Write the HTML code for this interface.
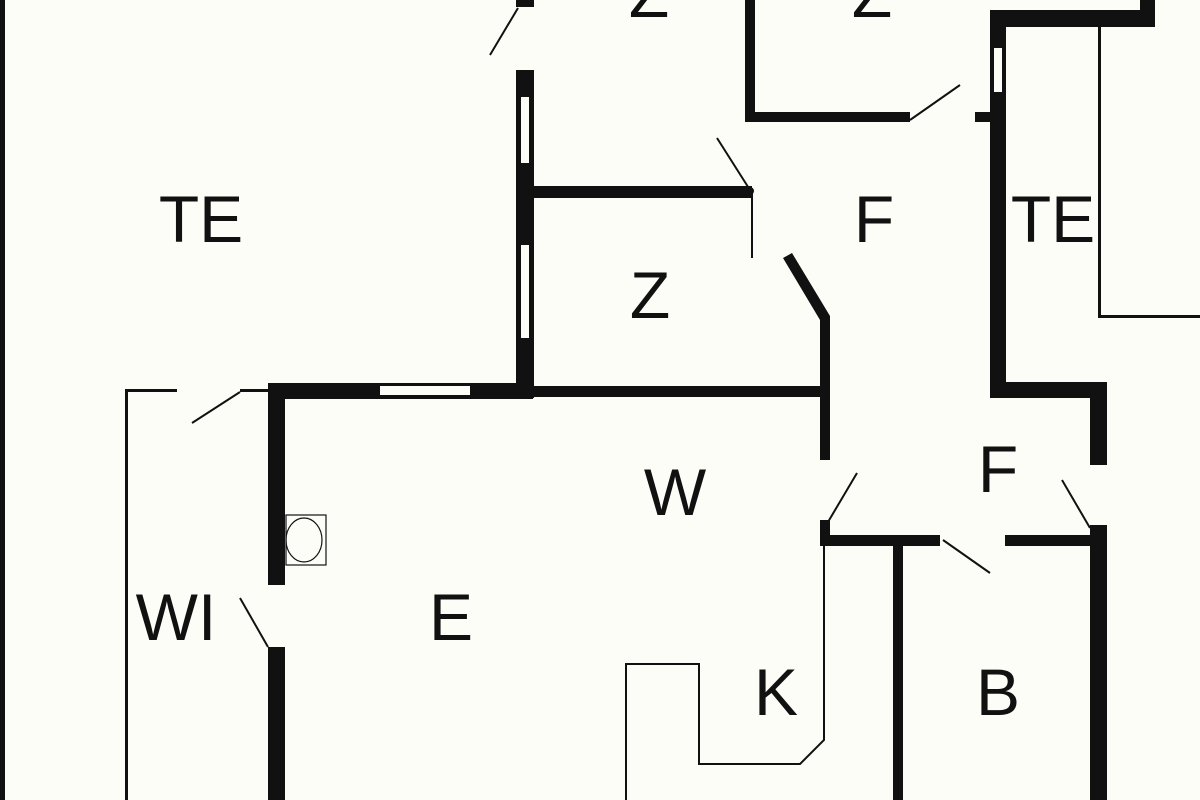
<!DOCTYPE html>
<html><head><style>html,body{margin:0;padding:0;background:#fdfdf8;}svg{display:block}</style></head>
<body>
<svg width="1200" height="800" viewBox="0 0 1200 800" xmlns="http://www.w3.org/2000/svg">
<rect width="1200" height="800" fill="#fdfdf8"/>
<g fill="#111">
<rect x="0" y="0" width="5" height="800"/>
<rect x="516" y="0" width="18" height="7"/>
<rect x="516" y="70" width="18" height="328"/>
<rect x="534" y="186" width="218" height="12"/>
<rect x="745" y="0" width="10" height="122"/>
<rect x="745" y="112" width="165" height="10"/>
<rect x="975" y="112" width="15" height="10"/>
<rect x="990" y="10" width="16" height="388"/>
<rect x="990" y="10" width="165" height="17"/>
<rect x="1140" y="0" width="15" height="27"/>
<rect x="1098" y="27" width="3" height="291"/>
<rect x="1098" y="315" width="102" height="3"/>
<rect x="268" y="383" width="265" height="16"/>
<rect x="530" y="386" width="300" height="11"/>
<rect x="820" y="318" width="10" height="142"/>
<rect x="820" y="520" width="10" height="26"/>
<rect x="990" y="382" width="117" height="16"/>
<rect x="1090" y="382" width="17" height="83"/>
<rect x="1090" y="525" width="17" height="275"/>
<rect x="820" y="535" width="120" height="11"/>
<rect x="1005" y="535" width="90" height="11"/>
<rect x="893" y="546" width="10" height="254"/>
<rect x="268" y="390" width="17" height="195"/>
<rect x="268" y="647" width="17" height="153"/>
<rect x="125" y="389" width="3" height="411"/>
<rect x="125" y="389" width="52" height="3"/>
<rect x="240" y="389" width="30" height="3"/>
</g>
<g fill="#fdfdf8">
<rect x="521" y="97" width="8" height="66"/>
<rect x="521" y="245" width="8" height="93"/>
<rect x="380" y="386" width="90" height="9"/>
<rect x="994" y="48" width="8" height="44"/>
</g>
<polygon points="783,258 792,253 830,316 830,330 820,330 820,320" fill="#111"/>
<g stroke="#111" fill="none" stroke-width="2">
<line x1="490" y1="55" x2="518" y2="8"/>
<line x1="717" y1="138" x2="750" y2="190"/>
<line x1="752" y1="190" x2="752" y2="258"/>
<line x1="910" y1="120" x2="960" y2="85"/>
<line x1="828" y1="522" x2="857" y2="473"/>
<line x1="1062" y1="480" x2="1090" y2="528"/>
<line x1="943" y1="540" x2="990" y2="573"/>
<line x1="240" y1="598" x2="268" y2="647"/>
<line x1="192" y1="423" x2="240" y2="392"/>
<polyline points="824,546 824,740 800,764 699,764 699,664 626,664 626,800"/>
<rect x="286" y="515" width="40" height="50" stroke-width="1.2"/>
<ellipse cx="304" cy="540" rx="18" ry="22" stroke-width="1.2"/>
<circle cx="750" cy="191" r="3" fill="#111"/>
</g>
<g font-family="Liberation Sans, sans-serif" font-size="66" fill="#111" text-anchor="middle">
<text x="201" y="242">TE</text>
<text x="649" y="17">Z</text>
<text x="872" y="17">Z</text>
<text x="874" y="242">F</text>
<text x="1053" y="242">TE</text>
<text x="650" y="318">Z</text>
<text x="675" y="515">W</text>
<text x="998" y="492">F</text>
<text x="451" y="640">E</text>
<text x="176" y="640">WI</text>
<text x="776" y="715">K</text>
<text x="998" y="715">B</text>
</g>
</svg>
</body></html>
